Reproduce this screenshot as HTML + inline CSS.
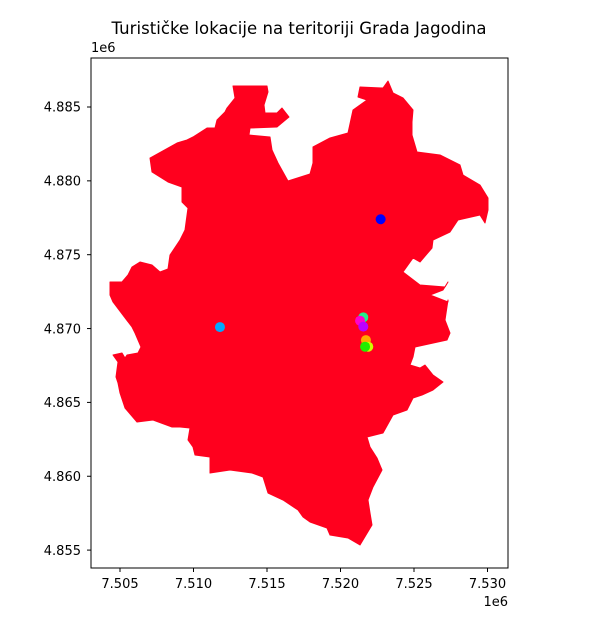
<!DOCTYPE html>
<html><head><meta charset="utf-8"><style>body{margin:0;background:#fff}svg{display:block;font-family:"DejaVu Sans","Liberation Sans",sans-serif}</style></head>
<body>
<svg id="chart" width="611" height="625" viewBox="0 0 611 625">
<text x="299" y="34" font-size="16.5" text-anchor="middle" textLength="375" fill="#000">Turističke lokacije na teritoriji Grada Jagodina</text>
<path fill="#ff001e" stroke="#ff001e" stroke-width="1" stroke-linejoin="round" d="M233,86 L267,86 268,92 264,105 265,113 277,113 282,108 289,117 277,127 250,128 249,135 270,137 272,150 278,163 288,181 310,174 313,163 313,147 330,138 348,133 353,110 367,100 358,97 360,87 383,88 388,81 393,93 403,98 413,110 412,122 412,135 417,152 440,155 460,165 463,175 480,185 488,198 488,210 485,223 480,215 458,220 450,232 433,240 432,248 420,262 413,258 403,272 420,285 445,287 448,282 443,290 430,295 448,302 448,300 445,320 450,333 447,340 415,347 413,357 410,365 420,368 425,365 433,375 443,382 433,390 422,395 413,398 407,410 393,415 383,433 367,437 370,447 377,458 382,470 373,487 368,500 370,513 372,525 360,545 348,538 330,535 327,528 310,522 303,517 298,510 283,500 268,493 263,477 252,473 230,470 210,473 210,462 210,457 195,455 193,447 188,440 190,428 180,427 172,427 153,420 137,422 125,408 120,393 118,383 116,377 118,362 113,355 122,353 125,358 127,355 138,353 141,347 135,333 132,327 113,302 110,295 110,282 122,282 128,275 132,267 140,262 152,265 160,272 168,269 170,255 180,240 185,230 188,208 182,202 182,187 168,182 152,172 150,158 177,143 187,140 193,137 207,128 215,128 217,120 225,112 227,108 235,98 Z"/>
<g id="points"></g>
<rect x="91" y="58" width="417" height="510" fill="none" stroke="#000" stroke-width="1"/>
<g id="xticks" font-size="13" fill="#000"></g>
<g id="yticks" font-size="13" fill="#000"></g>
<text x="91" y="52" font-size="13">1e6</text>
<text x="508" y="606" font-size="13" text-anchor="end">1e6</text>
</svg>
<script>
const pointNames = ["blue","cyan","teal","magenta","purple","orange","yellow","green"];
const pointX = [7522.73,7511.80,7521.55,7521.33,7521.55,7521.73,7521.89,7521.67];
const pointY = [4877.40,4870.10,4870.76,4870.53,4870.13,4869.22,4868.77,4868.77];
const pointColors = ["#0000ff","#00aaff","#22ee88","#ff00cc","#bb00ff","#ffaa00","#ccff00","#22ee00"];
const xTickVals = [7505,7510,7515,7520,7525,7530];
const xTickLabels = ["7.505","7.510","7.515","7.520","7.525","7.530"];
const yTickVals = [4885,4880,4875,4870,4865,4860,4855];
const yTickLabels = ["4.885","4.880","4.875","4.870","4.865","4.860","4.855"];
const NS="http://www.w3.org/2000/svg";
function sx(v){return 120+(v-7505)*14.7;}
function sy(v){return 107+(4885-v)*14.77;}
const pg=document.getElementById('points');
for(let i=0;i<pointX.length;i++){
  const c=document.createElementNS(NS,'circle');
  c.setAttribute('cx',sx(pointX[i]));c.setAttribute('cy',sy(pointY[i]));c.setAttribute('r',5);c.setAttribute('fill',pointColors[i]);
  
  
  pg.appendChild(c);
}
const xg=document.getElementById('xticks');
xTickVals.forEach((v,i)=>{
  const x=sx(v);
  const l=document.createElementNS(NS,'line');
  l.setAttribute('x1',x);l.setAttribute('x2',x);l.setAttribute('y1',568);l.setAttribute('y2',572);l.setAttribute('stroke','#000');
  
  
  xg.appendChild(l);
  const t=document.createElementNS(NS,'text');
  t.setAttribute('x',x);t.setAttribute('y',588);t.setAttribute('text-anchor','middle');t.textContent=xTickLabels[i];
  
  
  xg.appendChild(t);
});
const yg=document.getElementById('yticks');
yTickVals.forEach((v,i)=>{
  const y=sy(v);
  const l=document.createElementNS(NS,'line');
  l.setAttribute('x1',87);l.setAttribute('x2',91);l.setAttribute('y1',y);l.setAttribute('y2',y);l.setAttribute('stroke','#000');
  
  
  yg.appendChild(l);
  const t=document.createElementNS(NS,'text');
  t.setAttribute('x',81);t.setAttribute('y',y+4.7);t.setAttribute('text-anchor','end');t.textContent=yTickLabels[i];
  
  
  yg.appendChild(t);
});
</script>
</body></html>
